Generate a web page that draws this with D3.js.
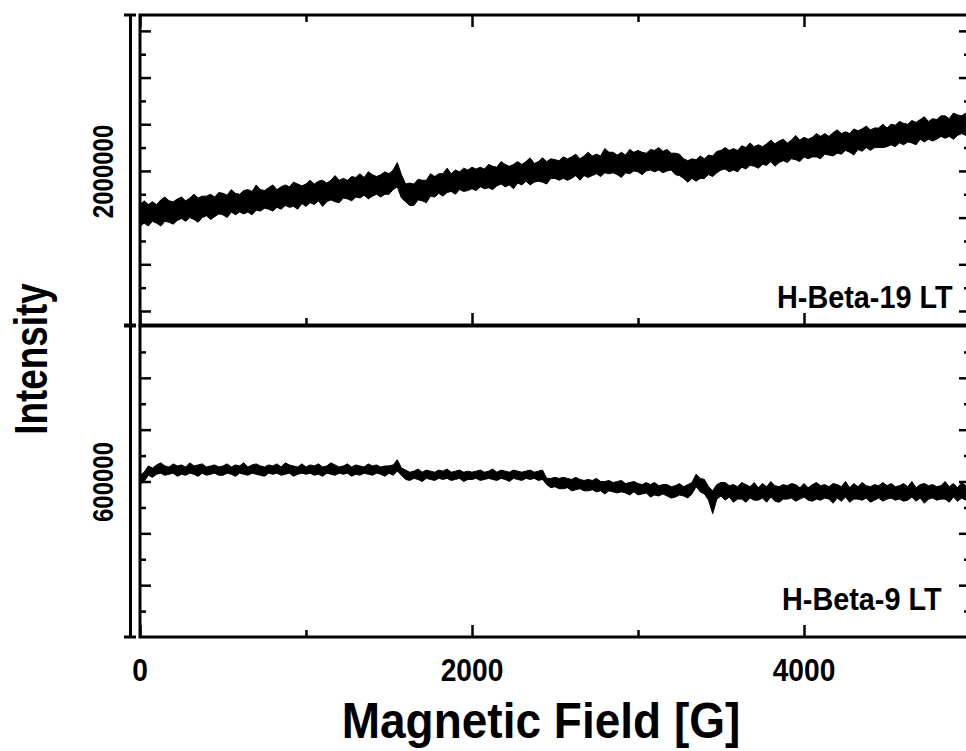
<!DOCTYPE html>
<html>
<head>
<meta charset="UTF-8">
<title>H-Beta EPR</title>
<script src="https://d3js.org/d3.v7.min.js"></script>
<style>
  body { margin: 0; background: #fff; }
  text { font-family: "Liberation Sans", Arial, sans-serif; font-weight: bold; fill: #000; }
</style>
</head>
<body>
<div id="chart"></div>
<script>
// magnetic field samples [G]
const field = [0,25,50,75,100,125,150,175,200,225,250,275,300,325,350,375,400,425,450,475,
  500,525,550,575,600,625,650,675,700,725,750,775,800,825,850,875,900,925,950,975,
  1000,1025,1050,1075,1100,1125,1150,1175,1200,1225,1250,1275,1300,1325,1350,1375,1400,1425,1450,1475,
  1500,1525,1550,1575,1600,1625,1650,1675,1700,1725,1750,1775,1800,1825,1850,1875,1900,1925,1950,1975,
  2000,2025,2050,2075,2100,2125,2150,2175,2200,2225,2250,2275,2300,2325,2350,2375,2400,2425,2450,2475,
  2500,2525,2550,2575,2600,2625,2650,2675,2700,2725,2750,2775,2800,2825,2850,2875,2900,2925,2950,2975,
  3000,3025,3050,3075,3100,3125,3150,3175,3200,3225,3250,3275,3300,3325,3350,3375,3400,3425,3450,3475,
  3500,3525,3550,3575,3600,3625,3650,3675,3700,3725,3750,3775,3800,3825,3850,3875,3900,3925,3950,3975,
  4000,4025,4050,4075,4100,4125,4150,4175,4200,4225,4250,4275,4300,4325,4350,4375,4400,4425,4450,4475,
  4500,4525,4550,4575,4600,4625,4650,4675,4700,4725,4750,4775,4800,4825,4850,4875,4900,4925,4950,4975];

// H-Beta-19 LT : max / min of the noisy trace in each 25 G bin (x1000)
const b19High = [1964,1968,1964,1967,1964,1969,1972,1968,1967,1970,1972,1968,1971,1975,1971,1973,1973,1975,1972,1977,
  1976,1974,1980,1976,1975,1979,1980,1978,1985,1980,1979,1982,1985,1980,1983,1985,1983,1988,1986,1984,
  1986,1990,1986,1989,1990,1987,1990,1995,1990,1992,1990,1994,1993,1997,1993,1999,1996,1994,1996,1999,
  1997,2001,2009,1996,1986,1987,1986,1991,1990,1990,1997,1994,1997,1997,2003,1997,2001,1999,2003,2001,
  2004,2002,2004,2002,2007,2005,2004,2010,2007,2005,2007,2010,2007,2010,2014,2008,2010,2014,2010,2013,
  2012,2011,2015,2013,2015,2018,2013,2016,2020,2016,2018,2016,2024,2020,2020,2017,2020,2017,2023,2020,
  2022,2020,2019,2023,2022,2025,2021,2023,2019,2019,2018,2013,2011,2013,2012,2016,2013,2017,2016,2021,
  2022,2025,2022,2024,2022,2027,2025,2030,2026,2028,2026,2029,2033,2029,2032,2034,2030,2033,2038,2033,
  2036,2034,2036,2040,2037,2040,2037,2041,2044,2040,2042,2040,2045,2043,2045,2048,2044,2046,2046,2050,
  2046,2050,2049,2053,2051,2050,2054,2052,2055,2058,2053,2056,2055,2059,2059,2056,2062,2060,2059,2062];
const b19Low = [1941,1944,1941,1946,1944,1941,1946,1945,1943,1947,1949,1946,1950,1948,1945,1950,1952,1948,1951,1954,
  1953,1950,1956,1953,1956,1954,1956,1953,1958,1957,1960,1959,1957,1961,1959,1963,1961,1962,1959,1965,
  1962,1966,1964,1968,1962,1967,1969,1967,1966,1971,1970,1968,1972,1971,1974,1970,1973,1975,1972,1975,
  1975,1980,1983,1971,1967,1963,1963,1969,1968,1966,1973,1972,1976,1973,1977,1978,1975,1980,1978,1979,
  1981,1979,1983,1981,1982,1980,1984,1986,1983,1985,1981,1987,1985,1989,1985,1988,1989,1988,1986,1992,
  1992,1990,1992,1990,1992,1995,1990,1995,1993,1995,1997,1994,1998,1997,1998,1996,1993,1998,1997,2000,
  1999,1996,2000,2001,1999,2001,1998,2000,2001,1996,1995,1992,1988,1992,1989,1992,1992,1996,1994,1998,
  2001,2002,1999,2001,1999,2004,2002,2006,2005,2003,2007,2006,2010,2005,2009,2011,2009,2013,2012,2010,
  2015,2013,2015,2015,2013,2018,2017,2016,2019,2018,2022,2020,2017,2023,2021,2025,2022,2025,2025,2025,
  2026,2028,2026,2030,2028,2031,2030,2028,2034,2031,2034,2032,2034,2037,2035,2037,2034,2038,2040,2038];

// H-Beta-9 LT (x1000)
const b9High = [606,609,615,613,616,618,615,614,617,615,616,614,618,615,616,617,614,615,616,614,
  615,617,614,616,615,618,614,616,617,615,614,616,615,617,614,618,616,615,614,617,
  614,616,615,617,614,615,618,616,614,615,617,614,616,615,614,617,615,616,614,615,
  615,616,621,613,611,609,610,612,609,611,610,609,611,610,612,609,610,611,609,610,
  609,610,611,609,610,612,609,611,610,609,611,610,609,610,611,609,610,611,603,603,
  604,603,604,603,602,604,602,601,602,601,603,600,600,601,599,600,601,598,599,600,
  598,597,599,597,599,596,597,597,595,596,598,595,597,599,607,603,602,595,591,597,
  599,599,596,597,595,599,597,595,599,594,598,595,600,596,595,597,596,598,597,594,
  598,594,597,599,596,597,595,598,597,595,600,594,598,595,599,596,595,597,596,599,
  596,598,595,596,598,595,600,594,597,598,596,597,595,596,600,595,598,594,599,596];
const b9Low = [597,600,606,604,607,608,606,607,608,605,607,606,608,607,605,608,606,607,608,606,
  606,608,607,605,608,607,606,608,607,606,605,608,607,608,606,607,608,605,607,608,
  607,608,606,607,605,608,607,606,608,607,608,605,607,606,608,607,606,608,607,605,
  608,606,610,606,602,601,603,602,600,603,602,601,603,602,603,601,602,603,600,602,
  602,603,601,602,603,602,601,603,602,600,603,602,601,603,602,603,601,602,597,594,
  595,593,593,594,591,592,593,591,591,592,590,591,588,591,590,589,590,589,587,590,
  587,588,589,585,587,586,588,586,584,585,587,586,584,588,595,590,588,582,569,583,
  586,582,585,580,583,583,580,584,582,582,584,580,585,581,580,583,583,584,581,583,
  585,582,581,583,582,584,583,579,584,581,585,580,583,583,582,584,580,582,584,581,
  583,584,582,583,581,582,585,581,584,579,583,584,582,583,583,580,585,581,584,582];

const xTicksMajor = [0, 2000, 4000];
const xTicksMinor = [1000, 3000];

const panels = [
  { name: 'H-Beta-19 LT', hi: b19High, lo: b19Low, domain: [1835000, 2167000],
    major: [1850000, 1900000, 1950000, 2000000, 2050000, 2100000, 2150000],
    minor: [1875000, 1925000, 1975000, 2025000, 2075000, 2125000],
    label: [2000000], top: 15, bottom: 325, tag: [777, 308], topTicks: true },
  { name: 'H-Beta-9 LT', hi: b9High, lo: b9Low, domain: [450000, 750000],
    major: [500000, 550000, 600000, 650000, 700000],
    minor: [475000, 525000, 575000, 625000, 675000, 725000],
    label: [600000], top: 326, bottom: 637, tag: [782, 610], topTicks: false }
];

const W = 966, H = 751;
const left = 140, right = 970, axisX = 130;
const hs = 0.93, vs = 0.8;   // narrow bold face

const svg = d3.select('#chart').append('svg')
  .attr('width', W).attr('height', H);

const x = d3.scaleLinear().domain([0, 5000]).range([left, right]);

panels.forEach(p => {
  const y = d3.scaleLinear().domain(p.domain).range([p.bottom, p.top]);
  const data = field.map((f, i) => ({ f: f, hi: p.hi[i] * 1000, lo: p.lo[i] * 1000 }));

  // trace (min/max envelope of the dense signal)
  svg.append('path')
    .datum(data)
    .attr('d', d3.area().x(d => x(d.f)).y0(d => y(d.lo)).y1(d => y(d.hi)))
    .attr('fill', '#000').attr('stroke', '#000').attr('stroke-width', 1);

  // y ticks on both sides of the frame
  const yTicks = (axis, tx, vals, size) => {
    const g = svg.append('g').attr('transform', `translate(${tx},0)`)
      .call(axis(y).tickValues(vals).tickSize(size).tickFormat(''));
    g.select('.domain').remove();
    g.selectAll('line').attr('stroke-width', 2.5);
  };
  yTicks(d3.axisRight, left, p.major, 11);
  yTicks(d3.axisRight, left, p.minor, 6);
  yTicks(d3.axisLeft, right, p.major, 11);
  yTicks(d3.axisLeft, right, p.minor, 6);

  // x ticks
  const xTicks = (axis, ty, vals, size) => {
    const g = svg.append('g').attr('transform', `translate(0,${ty})`)
      .call(axis(x).tickValues(vals).tickSize(size).tickFormat(''));
    g.select('.domain').remove();
    g.selectAll('line').attr('stroke-width', 2.5);
  };
  xTicks(d3.axisTop, p.bottom, xTicksMajor, 12);
  xTicks(d3.axisTop, p.bottom, xTicksMinor, 7);
  if (p.topTicks) {
    xTicks(d3.axisBottom, p.top, xTicksMajor, 12);
    xTicks(d3.axisBottom, p.top, xTicksMinor, 7);
  }

  // frame
  svg.append('rect')
    .attr('x', left).attr('y', p.top)
    .attr('width', right - left).attr('height', p.bottom - p.top)
    .attr('fill', 'none').attr('stroke', '#000').attr('stroke-width', 3);

  // offset axis carrying the tick label
  const outer = svg.append('g').attr('transform', `translate(${axisX},0)`)
    .call(d3.axisLeft(y).tickValues(p.label).tickSize(0).tickSizeOuter(0).tickFormat(d3.format('d')));
  outer.select('.domain').attr('stroke-width', 3);
  outer.selectAll('text')
    .attr('x', 0).attr('dy', null)
    .attr('transform', `translate(-17,0) rotate(-90) scale(${vs},1)`)
    .attr('text-anchor', 'middle')
    .style('font-size', '30px');
  y.range().forEach(v => {
    outer.append('line').attr('x1', -6).attr('x2', 6).attr('y1', v).attr('y2', v)
      .attr('stroke', '#000').attr('stroke-width', 3);
  });

  svg.append('text')
    .attr('transform', `translate(${p.tag[0]},${p.tag[1]}) scale(${hs},1)`)
    .style('font-size', '31px')
    .text(p.name);
});

// x tick labels
svg.append('g').selectAll('text')
  .data(xTicksMajor)
  .join('text')
  .attr('transform', d => `translate(${x(d)},681) scale(0.88,1)`)
  .attr('text-anchor', 'middle')
  .style('font-size', '32px')
  .text(d => d);

svg.append('text')
  .attr('transform', 'translate(541,738) scale(0.92,1)')
  .attr('text-anchor', 'middle')
  .style('font-size', '50px')
  .text('Magnetic Field [G]');

svg.append('text')
  .attr('transform', `translate(47,359) rotate(-90) scale(${vs},1)`)
  .attr('text-anchor', 'middle')
  .style('font-size', '46px')
  .text('Intensity');
</script>
</body>
</html>
